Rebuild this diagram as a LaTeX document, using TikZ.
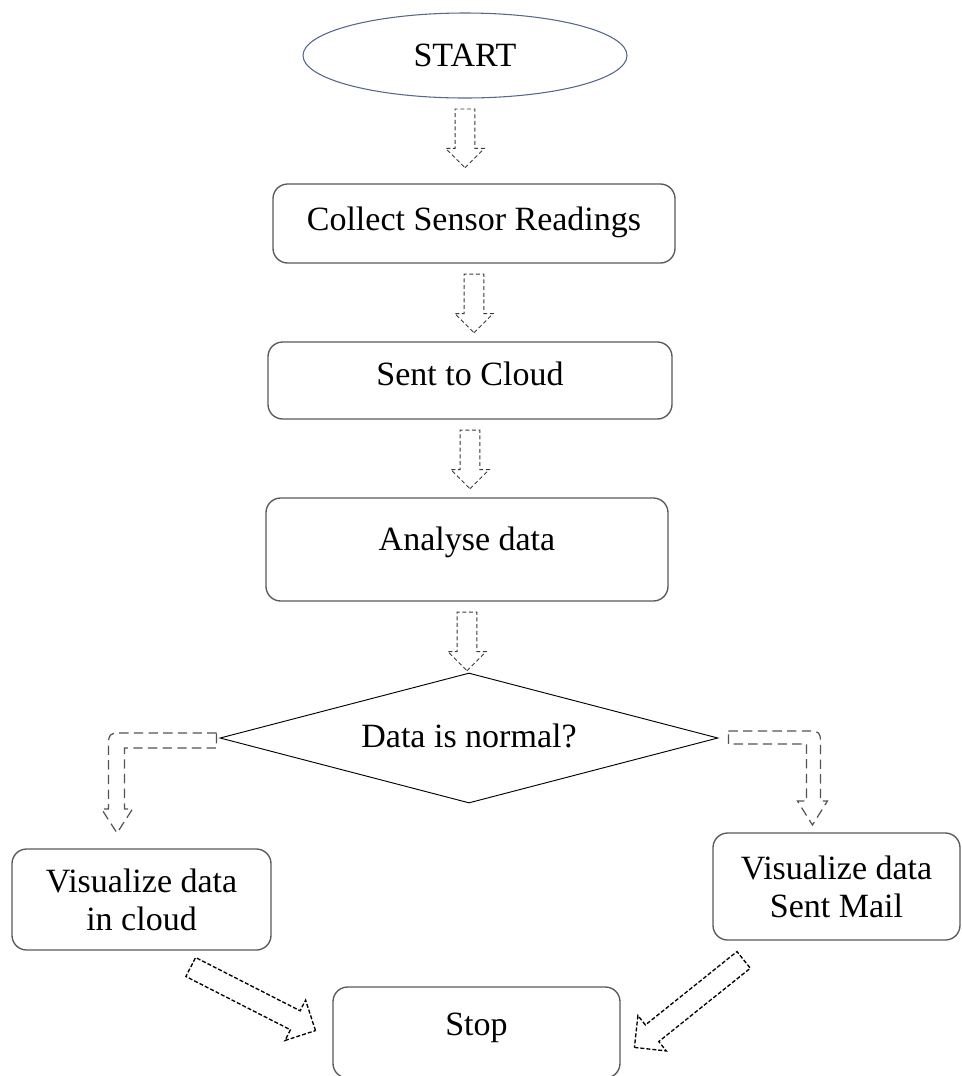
\documentclass[tikz,border=0pt]{standalone}
\usepackage{fontspec}
\setmainfont{Liberation Serif}
\usetikzlibrary{calc, shapes.geometric, shapes.arrows}

\definecolor{startline}{RGB}{84,104,138}

\begin{document}
\begin{tikzpicture}[x=0.75pt, y=-0.75pt,
    font=\fontsize{25.5}{28.5}\selectfont,
    stepbox/.style={draw=gray!70!black, line width=1pt, rounded corners=11pt,
        align=center, inner sep=4pt},
    downarrow/.style={single arrow, draw=gray!45!black, line width=0.7pt,
        dash pattern=on 3pt off 2pt, rotate=-90, minimum height=44pt,
        inner sep=7.1pt, single arrow head extend=7pt},
    fatarrow/.style={single arrow, draw=black, line width=1pt,
        dash pattern=on 3pt off 1.5pt, minimum height=105pt,
        inner sep=7.5pt, single arrow head extend=9pt},
    bentarrow/.style={draw=gray!65!black, line width=0.9pt,
        dash pattern=on 7pt off 4pt}]

    % --- 1. Canvas (reference size in px) ---
    \useasboundingbox (0,0) rectangle (962,1076);

    % --- 2. Flow steps ---
    \node[ellipse, draw=startline, line width=0.8pt,
        minimum width=243pt, minimum height=63.75pt] (start) at (465,55.5) {START};

    \node[stepbox, minimum width=301.5pt, minimum height=59.25pt,
        text height=18pt, text depth=8.25pt] (collect) at (474,223.5) {Collect Sensor Readings};
    \node[stepbox, minimum width=303pt, minimum height=57.75pt,
        text height=18pt, text depth=11.25pt] (cloud) at (470,380.5) {Sent to Cloud};
    \node[stepbox, minimum width=301.5pt, minimum height=77.25pt,
        text height=18pt, text depth=17.25pt] (analyse) at (467,549.5) {Analyse data};

    % Decision
    \node[diamond, aspect=3.83, draw=black, line width=0.7pt,
        minimum width=373.5pt, minimum height=97.5pt,
        text height=18pt, text depth=4.5pt] (dec) at (469,738) {Data is normal?};

    % Two branches and the end
    \node[stepbox, minimum width=194.25pt, minimum height=75.75pt] (visleft) at (141.5,899.5) {Visualize data\\in cloud};
    \node[stepbox, minimum width=185.25pt, minimum height=80.25pt] (visright) at (836.5,886.5) {Visualize data\\Sent Mail};
    \node[stepbox, minimum width=215.25pt, minimum height=68.25pt,
        text height=18pt, text depth=14.25pt] (stop) at (476.5,1032.5) {Stop};

    % --- 3. Straight block arrows ---
    \foreach \from in {start, collect, cloud, analyse}
        \node[downarrow, anchor=tail] (arr-\from) at ($(\from.south)+(0,10)$) {};

    % --- 4. Bent block arrows out of the decision ---
    % left branch
    \draw[bentarrow] ($(dec.west)+(-3,-5)$) -- ++(-98,0)
        .. controls +(-8,0) and +(0,-8) .. ++(-10,10)
        -- ++(0,66) -- ++(-7,0) -- ++(15.5,24) -- ++(15.5,-24)
        -- ++(-8,0) -- ++(0,-61) -- ++(92,0) -- cycle;
    % right branch
    \draw[bentarrow] ($(dec.east)+(10,-7)$) -- ++(82,0)
        .. controls +(8,0) and +(0,-8) .. ++(10,10)
        -- ++(0,60) -- ++(7,0) -- ++(-15,24) -- ++(-15,-24)
        -- ++(9,0) -- ++(0,-57) -- ++(-78,0) -- cycle;

    % --- 5. Arrows into Stop ---
    \node[fatarrow, rotate=-27, anchor=tip] (arr-left) at ($(stop.west)+(-16,-1.5)$) {};
    \node[fatarrow, rotate=218.7, anchor=tip] (arr-right) at ($(stop.east)+(13,15.5)$) {};

\end{tikzpicture}
\end{document}
